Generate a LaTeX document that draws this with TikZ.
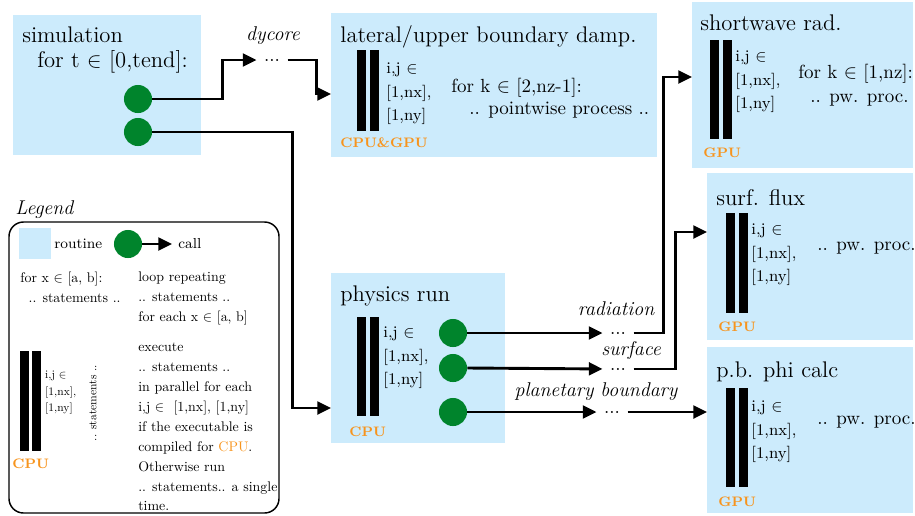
\documentclass[tikz,border=0pt]{standalone}
\usepackage{amsmath}
\usepackage{tikz}
\usetikzlibrary{arrows.meta}
\usetikzlibrary{fit}
\usetikzlibrary{positioning}

\definecolor{routineblue}{RGB}{204,235,252}
\definecolor{callgreen}{RGB}{0,132,44}
\definecolor{hworange}{RGB}{247,148,29}

\begin{document}
\begin{tikzpicture}[x=0.5525pt, y=-0.5525pt,
    routine/.style={fill=routineblue, inner sep=0pt},
    call/.style={circle, fill=callgreen, inner sep=0pt, minimum size=15.5pt},
    parbar/.style={fill=black},
    idx/.style={font=\small, align=left, anchor=west, inner sep=0pt},
    hw/.style={font=\fontsize{7.6}{9}\selectfont\bfseries, text=hworange, anchor=west, inner sep=0pt},
    title/.style={font=\fontsize{12.5}{13.3}\selectfont, align=left, anchor=west, inner sep=0pt},
    txt/.style={font=\fontsize{10.5}{12.6}\selectfont, anchor=west, inner sep=0pt},
    legtxt/.style={font=\fontsize{10}{14.3}\selectfont, scale=0.77, transform shape, align=left, anchor=west, inner sep=0pt},
    legidx/.style={font=\fontsize{10}{14.4}\selectfont, scale=0.635, transform shape, align=left, anchor=west, inner sep=0pt},
    legkey/.style={font=\fontsize{8}{10}\selectfont, anchor=west, inner sep=0pt},
    lbl/.style={font=\fontsize{11}{13}\selectfont\itshape, inner sep=0pt},
    dots/.style={font=\fontsize{10.5}{12.6}\selectfont, inner sep=0pt},
    link/.style={line width=1.6pt, -{Triangle[length=7.5pt, width=7pt]}},
    gapin/.style={shorten >=4pt},
    gapout/.style={shorten <=4pt}]

                \useasboundingbox (0,0) rectangle (915,515);

                % Routines
                \node[routine, fit={(13,15) (201,155)}] (sim) {};
                \node[routine, fit={(331,13) (657,157)}] (damp) {};
                \node[routine, fit={(692,2) (913,168)}] (swrad) {};
                \node[routine, fit={(707,173) (913,340)}] (sflux) {};
                \node[routine, fit={(707,347) (913,513)}] (pbphi) {};
                \node[routine, fit={(331,273) (505,443)}] (phys) {};

                % Entry points
                \coordinate (damp-in) at (331,94);
                \coordinate (phys-in) at (331,408);
                \coordinate (swrad-in) at (692,77);
                \coordinate (sflux-in) at (707,232);
                \coordinate (pbphi-in) at (707,412);

                % Simulation
                \node[title] (simtitle) at (22,50) {simulation\\\hspace*{8.3pt}for t $\in$ [0,tend]:};
                \node[call] (c1) at (138,99) {};
                \node[call] (c2) at (138,132) {};

                % Boundary damping
                \node[title] (damptitle) at (340,37) {lateral/upper boundary damp.};
                \fill[parbar] (357,50) rectangle (366,131);
                \fill[parbar] (370,50) rectangle (379,131);
                \node[idx] (dampidx) at (386,94) {i,j $\in$\\[2pt]{[1,nx],}\\[2pt]{[1,ny]}};
                \node[hw] (damphw) at (340,143) {CPU\&GPU};
                \node[txt] (damploop) at (451,88) {for k $\in$ [2,nz-1]:};
                \node[txt] (dampproc) at (469,110) {.. pointwise process ..};

                % Shortwave
                \node[title] (swtitle) at (700,23) {shortwave rad.};
                \fill[parbar] (710,40) rectangle (719,139);
                \fill[parbar] (723,40) rectangle (732,139);
                \node[idx] (swidx) at (735,82) {i,j $\in$\\[2pt]{[1,nx],}\\[2pt]{[1,ny]}};
                \node[hw] (swhw) at (703,153) {GPU};
                \node[txt] (swloop) at (798,74) {for k $\in$ [1,nz]:};
                \node[txt] (swproc) at (810,100) {.. pw. proc.};

                % Surface flux
                \node[title] (sftitle) at (716,198) {surf. flux};
                \fill[parbar] (726,213) rectangle (735,313);
                \fill[parbar] (739,213) rectangle (748,313);
                \node[idx] (sfidx) at (751,255) {i,j $\in$\\[2pt]{[1,nx],}\\[2pt]{[1,ny]}};
                \node[hw] (sfhw) at (718,327) {GPU};
                \node[txt] (sfproc) at (817,248) {.. pw. proc.};

                % Planetary boundary
                \node[title] (pbtitle) at (716,372) {p.b. phi calc};
                \fill[parbar] (726,388) rectangle (735,487);
                \fill[parbar] (739,388) rectangle (748,487);
                \node[idx] (pbidx) at (751,432) {i,j $\in$\\[2pt]{[1,nx],}\\[2pt]{[1,ny]}};
                \node[hw] (pbhw) at (718,502) {GPU};
                \node[txt] (pbproc) at (817,422) {.. pw. proc.};

                % Physics
                \node[title] (phystitle) at (340,296) {physics run};
                \fill[parbar] (357,317) rectangle (366,416);
                \fill[parbar] (370,317) rectangle (379,416);
                \node[idx] (physidx) at (383,358) {i,j $\in$\\[2pt]{[1,nx],}\\[2pt]{[1,ny]}};
                \node[hw] (physhw) at (349,432) {CPU};
                \node[call] (p1) at (453,333) {};
                \node[call] (p2) at (453,368) {};
                \node[call] (p3) at (453,412) {};

                % Calls
                \node[dots] (dycdots) at (272,60) {...};
                \node[lbl] (dyclbl) at (273,36) {dycore};
                \node[dots] (raddots) at (618,333) {...};
                \node[lbl] (radlbl) at (616,309) {radiation};
                \node[dots] (sfcdots) at (618,369) {...};
                \node[lbl] (sfclbl) at (631,351) {surface};
                \node[dots] (pbdots) at (612,412) {...};
                \node[lbl] (pblbl) at (596,392) {planetary boundary};

                \draw[link, gapin] (c1.east) -- ++(70,0) |- (dycdots.west);
                \draw[link, gapout] (dycdots.east) -- ++(36,0) |- (damp-in);
                \draw[link] (c2.east) -- ++(140,0) |- (phys-in);
                \draw[link, gapin] (p1.east) -- (raddots.west);
                \draw[link, gapin] (p2.east) -- (sfcdots.west);
                \draw[link, gapin] (p3.east) -- (pbdots.west);
                \draw[link, gapout] (raddots.east) -- ++(37,0) |- (swrad-in);
                \draw[link, gapout] (sfcdots.east) -- ++(49,0) |- (sflux-in);
                \draw[link, gapout] (pbdots.east) -- (pbphi-in);

                % Legend
                \node[lbl, anchor=west] (legtitle) at (15,210) {Legend};
                \draw[rounded corners=8pt, line width=0.8pt] (9,222) rectangle (279,513);
                \fill[routineblue] (19,228) rectangle (51,259);
                \node[legkey] (legroutine) at (54,244) {routine};
                \node[call] (legcall) at (128,244) {};
                \coordinate (legend-end) at (172,244);
                \draw[link] (legcall.east) -- (legend-end);
                \node[legkey] (legcalltxt) at (178,244) {call};
                \node[legtxt] (legfor) at (20,287) {for x $\in$ [a, b]:\\\hspace*{6pt}.. statements ..};
                \node[legtxt] (legloop) at (138,298) {loop repeating\\.. statements ..\\for each x $\in$ [a, b]};
                \fill[parbar] (20,351) rectangle (29,451);
                \fill[parbar] (32,351) rectangle (41,451);
                \node[legidx] (legidx) at (45,393) {i,j $\in$\\{[1,nx],}\\{[1,ny]}};
                \node[hw] (leghw) at (12,464) {CPU};
                \node[font=\normalsize, scale=0.64, transform shape, rotate=90, inner sep=0pt] (legpstat) at (93,403) {.. statements ..};
                \node[legtxt] (legpar) at (138,427) {execute\\.. statements ..\\in parallel for each\\i,j $\in$\ \ [1,nx], [1,ny]\\if the executable is\\compiled for \textcolor{hworange}{CPU}.\\Otherwise run\\.. statements.. a single\\time.};
            \end{tikzpicture}
\end{document}
